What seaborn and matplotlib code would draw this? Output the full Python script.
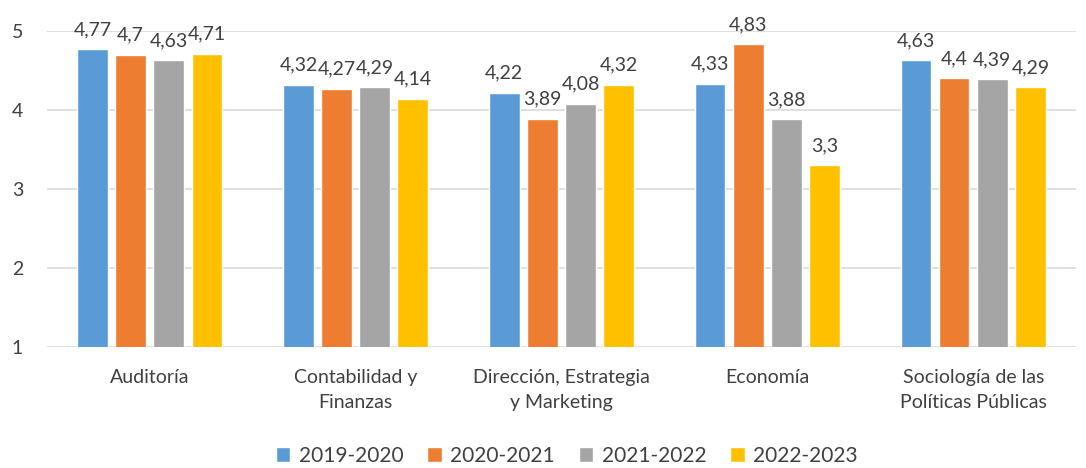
import pandas as pd
import matplotlib
matplotlib.use("Agg")
from matplotlib import pyplot as plt
import seaborn as sns

sns.set_theme(style="white")
plt.rcParams["font.family"] = ["Lato", "DejaVu Sans"]

grados = ["Auditoría", "Contabilidad y\nFinanzas", "Dirección, Estrategia\ny Marketing",
          "Economía", "Sociología de las\nPolíticas Públicas"]
cursos = ["2019-2020", "2020-2021", "2021-2022", "2022-2023"]
v2019 = [4.77, 4.32, 4.22, 4.33, 4.63]
v2020 = [4.70, 4.27, 3.89, 4.83, 4.40]
v2021 = [4.63, 4.29, 4.08, 3.88, 4.39]
v2022 = [4.71, 4.14, 4.32, 3.30, 4.29]
colores = ["#5B9BD5", "#ED7D31", "#A5A5A5", "#FFC000"]

rows = []
for curso, vals in zip(cursos, [v2019, v2020, v2021, v2022]):
    for g, v in zip(grados, vals):
        rows.append({"grado": g, "curso": curso, "valor": v})
df = pd.DataFrame(rows)

fig = plt.figure(figsize=(10.86, 4.68), dpi=100)
ax = fig.add_axes([0.043, 0.2585, 0.948, 0.6755])
sns.barplot(data=df, x="grado", y="valor", hue="curso", palette=colores,
            width=0.74, gap=0.2, ax=ax, saturation=1)

ax.set_ylim(1, 5)
ax.set_yticks([1, 2, 3, 4, 5])
ax.yaxis.grid(True, color="#D9D9D9", linewidth=1.2)
ax.set_axisbelow(True)
for s in ax.spines.values():
    s.set_visible(False)
ax.set_xlabel("")
ax.set_ylabel("")
ax.tick_params(axis="both", length=0, labelsize=14, colors="#404040")
ax.tick_params(axis="x", pad=16)
ax.tick_params(axis="y", pad=17)
for t in ax.get_xticklabels():
    t.set_linespacing(1.55)

for cont in ax.containers:
    ax.bar_label(cont, labels=[f"{b.get_height():g}".replace(".", ",") for b in cont],
                 padding=8, fontsize=14, color="#404040", clip_on=False)

ax.legend(loc="lower center", bbox_to_anchor=(0.505, -0.435), ncol=4, frameon=False,
          fontsize=15, handlelength=0.7, handleheight=0.7, handletextpad=0.4,
          columnspacing=1.15, labelcolor="#404040")

fig.savefig("out.png", dpi=100)
